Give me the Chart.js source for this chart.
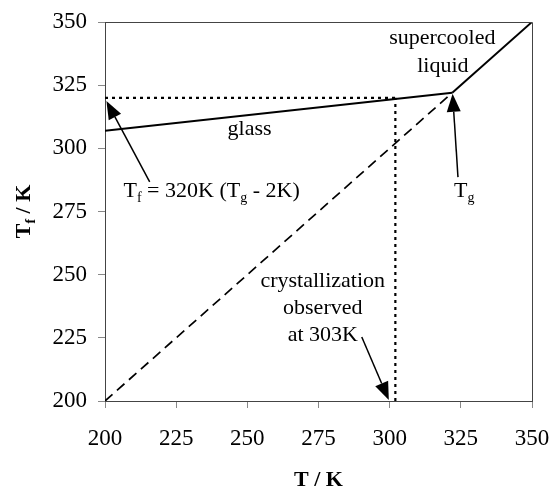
<!DOCTYPE html>
<html>
<head>
<meta charset="utf-8">
<script src="https://cdn.jsdelivr.net/npm/chart.js@4"></script>
<style>
  html, body { margin: 0; padding: 0; background: #fff; }
  #wrap { width: 553px; height: 488px; position: relative; }
</style>
</head>
<body>
<div id="wrap"><canvas id="tfChart"></canvas></div>
<script>
// values (K)
const tickValues = [200, 225, 250, 275, 300, 325, 350];
const glassT = [200, 322];
const glassTf = [307, 322];
const liquidT = [322, 350];
const liquidTf = [322, 350];
const equilT = [200, 322];
const equilTf = [200, 322];
const fictiveT = [200, 302];
const fictiveTf = [320, 320];
const crystT = [302, 302];
const crystTf = [200, 320];

// annotation anchors in data units
const arrows = [
  { from: [215.7, 286.7], to: [200.5, 318.7] },
  { from: [324.0, 288.6], to: [322.1, 321.6] },
  { from: [290.2, 225.3], to: [299.7, 200.4] }
];
const labels = [
  { at: [250.8, 305.3], align: 'center', parts: [['glass']] },
  { at: [318.5, 341.3], align: 'center', parts: [['supercooled']] },
  { at: [318.7, 330.2], align: 'center', parts: [['liquid']] },
  { at: [206.5, 280.7], align: 'left', parts: [['T'], ['f', 1], [' = 320K (T'], ['g', 1], [' - 2K)']] },
  { at: [322.6, 280.7], align: 'left', parts: [['T'], ['g', 1]] },
  { at: [276.5, 245.1], align: 'center', parts: [['crystallization']] },
  { at: [276.5, 234.4], align: 'center', parts: [['observed']] },
  { at: [276.5, 223.7], align: 'center', parts: [['at 303K']] }
];

const FONT = '"Liberation Serif", "Times New Roman", serif';
const axisColor = '#444';

function pts(xs, ys) {
  return xs.map((x, i) => ({ x: x, y: ys[i] }));
}

function line(xs, ys, opts) {
  return Object.assign({
    data: pts(xs, ys), showLine: true, pointRadius: 0, borderColor: '#000',
    borderWidth: 2, fill: false, tension: 0
  }, opts || {});
}

function drawRich(ctx, parts, x, y, align, size, bold) {
  const w = bold ? 'bold ' : '';
  let total = 0;
  parts.forEach(p => {
    ctx.font = w + (p[1] ? Math.round(size * 0.65) : size) + 'px ' + FONT;
    total += ctx.measureText(p[0]).width;
  });
  let cx = align === 'center' ? x - total / 2 : x;
  ctx.textAlign = 'left';
  ctx.textBaseline = 'alphabetic';
  parts.forEach(p => {
    ctx.font = w + (p[1] ? Math.round(size * 0.65) : size) + 'px ' + FONT;
    ctx.fillText(p[0], cx, y + (p[1] ? size * 0.22 : 0));
    cx += ctx.measureText(p[0]).width;
  });
}

const overlay = {
  id: 'overlay',
  afterDatasetsDraw(chart) {
    const { ctx, chartArea: a, scales: { x, y } } = chart;
    ctx.save();
    // top and right frame
    ctx.strokeStyle = axisColor;
    ctx.lineWidth = 1;
    ctx.beginPath();
    ctx.moveTo(a.left, a.top + 0.5);
    ctx.lineTo(a.right + 0.5, a.top + 0.5);
    ctx.lineTo(a.right + 0.5, a.bottom);
    ctx.stroke();

    // arrows
    ctx.fillStyle = '#000';
    ctx.strokeStyle = '#000';
    arrows.forEach(ar => {
      const x0 = x.getPixelForValue(ar.from[0]), y0 = y.getPixelForValue(ar.from[1]);
      const x1 = x.getPixelForValue(ar.to[0]), y1 = y.getPixelForValue(ar.to[1]);
      const ang = Math.atan2(y1 - y0, x1 - x0);
      const len = 18, half = 7;
      const bx = x1 - len * Math.cos(ang), by = y1 - len * Math.sin(ang);
      ctx.lineWidth = 1.5;
      ctx.beginPath();
      ctx.moveTo(x0, y0);
      ctx.lineTo(bx, by);
      ctx.stroke();
      ctx.beginPath();
      ctx.moveTo(x1, y1);
      ctx.lineTo(bx + half * Math.sin(ang), by - half * Math.cos(ang));
      ctx.lineTo(bx - half * Math.sin(ang), by + half * Math.cos(ang));
      ctx.closePath();
      ctx.fill();
    });

    // text labels
    labels.forEach(l => {
      drawRich(ctx, l.parts, x.getPixelForValue(l.at[0]), y.getPixelForValue(l.at[1]), l.align, 22, false);
    });

    // axis titles
    drawRich(ctx, [['T / K']], (a.left + a.right) / 2, 486, 'center', 22, true);
    ctx.translate(30, (a.top + a.bottom) / 2);
    ctx.rotate(-Math.PI / 2);
    drawRich(ctx, [['T'], ['f', 1], [' / K']], 0, 0, 'center', 22, true);
    ctx.restore();
  }
};

const tickOpts = {
  color: '#000',
  font: { family: FONT, size: 23 },
  autoSkip: false
};

new Chart(document.getElementById('tfChart'), {
  type: 'scatter',
  data: {
    datasets: [
      line(glassT, glassTf),
      line(liquidT, liquidTf),
      line(equilT, equilTf, { borderWidth: 1.7, borderDash: [10, 6] }),
      line(fictiveT, fictiveTf, { borderWidth: 2.2, borderDash: [3, 4] }),
      line(crystT, crystTf, { borderWidth: 2.2, borderDash: [3, 4] })
    ]
  },
  options: {
    responsive: true,
    maintainAspectRatio: false,
    animation: false,
    layout: { padding: { top: 22, right: 21, left: 0, bottom: 0 } },
    plugins: { legend: { display: false }, tooltip: { enabled: false } },
    scales: {
      x: {
        type: 'linear', min: 200, max: 350,
        afterBuildTicks: s => { s.ticks = tickValues.map(v => ({ value: v })); },
        afterFit: s => { s.height = 87; s.paddingLeft = 0; s.paddingRight = 0; },
        ticks: Object.assign({ padding: 17 }, tickOpts),
        grid: { drawOnChartArea: false, drawTicks: true, tickLength: 7, color: '#888' },
        border: { color: axisColor, width: 1 }
      },
      y: {
        type: 'linear', min: 200, max: 350,
        afterBuildTicks: s => { s.ticks = tickValues.map(v => ({ value: v })); },
        afterFit: s => { s.width = 105; s.paddingTop = 0; s.paddingBottom = 0; },
        ticks: Object.assign({ padding: 11 }, tickOpts),
        grid: { drawOnChartArea: false, drawTicks: true, tickLength: 7, color: '#888' },
        border: { color: axisColor, width: 1 }
      }
    }
  },
  plugins: [overlay]
});
</script>
</body>
</html>
